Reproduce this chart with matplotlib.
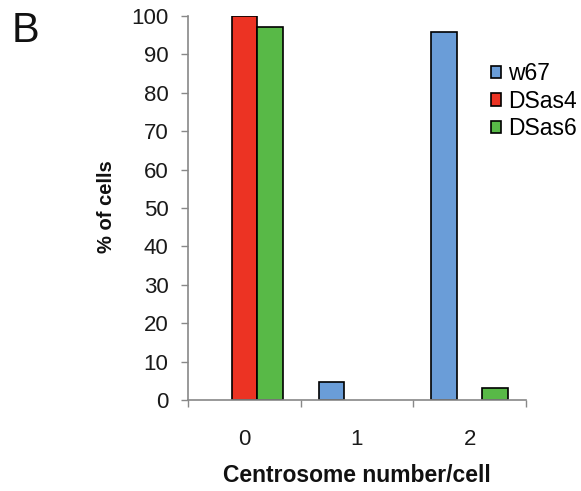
import numpy as np
import matplotlib.pyplot as plt

plt.rcParams['font.family'] = ['Liberation Sans', 'DejaVu Sans']

# data
categories = ['0', '1', '2']
series = ['w67', 'DSas4', 'DSas6']
w67 = np.array([0.0, 4.6, 95.8])
dsas4 = np.array([100.0, 0.0, 0.0])
dsas6 = np.array([97.1, 0.0, 3.0])
colors = ['#6a9dd8', '#ec3323', '#58b947']

fig = plt.figure(figsize=(5.81, 4.91), dpi=100)
ax = fig.add_axes([188/581, 1 - 400/491, 338/581, 384/491])

x = np.arange(len(categories))
width = 0.226
offsets = [-width, 0, width]

handles = []
for vals, off, col, name in zip([w67, dsas4, dsas6], offsets, colors, series):
    # skip empty bars so no edge line sits on the axis
    keep = vals > 0
    b = ax.bar(x[keep] + off, vals[keep], width, color=col,
               edgecolor='black', linewidth=1.2, label=name)
    handles.append(b)

ax.set_xlim(-0.5, 2.5)
ax.set_ylim(0, 100)
ax.set_yticks(np.arange(0, 101, 10))
ax.set_xticks(x)
ax.set_xticklabels(categories)
ax.set_xticks(np.arange(-0.5, 2.6, 1), minor=True)

for side in ['top', 'right']:
    ax.spines[side].set_visible(False)
for side in ['left', 'bottom']:
    ax.spines[side].set_color('#888888')
    ax.spines[side].set_linewidth(1.2)

ax.tick_params(axis='y', length=5, width=1, color='#888888', pad=9,
               labelsize=16, labelcolor='#1a1a1a')
ax.tick_params(axis='x', which='major', length=0, pad=21,
               labelsize=16, labelcolor='#1a1a1a')
ax.tick_params(axis='x', which='minor', length=5, width=1, color='#888888')

fig.text(357/581, 1 - 475/491, 'Centrosome number/cell', ha='center',
         va='center', fontsize=16.5, fontweight='bold', color='#111111')
fig.text(106/581, 1 - 207/491, '% of cells', ha='center', va='center',
         rotation=90, fontsize=14.5, fontweight='bold', color='#111111')
fig.text(12/581, 1 - 42/491, 'B', ha='left', va='baseline', fontsize=30,
         color='#111111')

ax.legend(handles=handles, loc='upper left', bbox_to_anchor=(491/581, 1 - 62/491),
          bbox_transform=fig.transFigure, frameon=False, fontsize=16.5,
          handlelength=0.45, handleheight=0.45, handletextpad=0.3,
          labelspacing=0.2, borderpad=0, borderaxespad=0)

fig.savefig('out.png', dpi=100)
